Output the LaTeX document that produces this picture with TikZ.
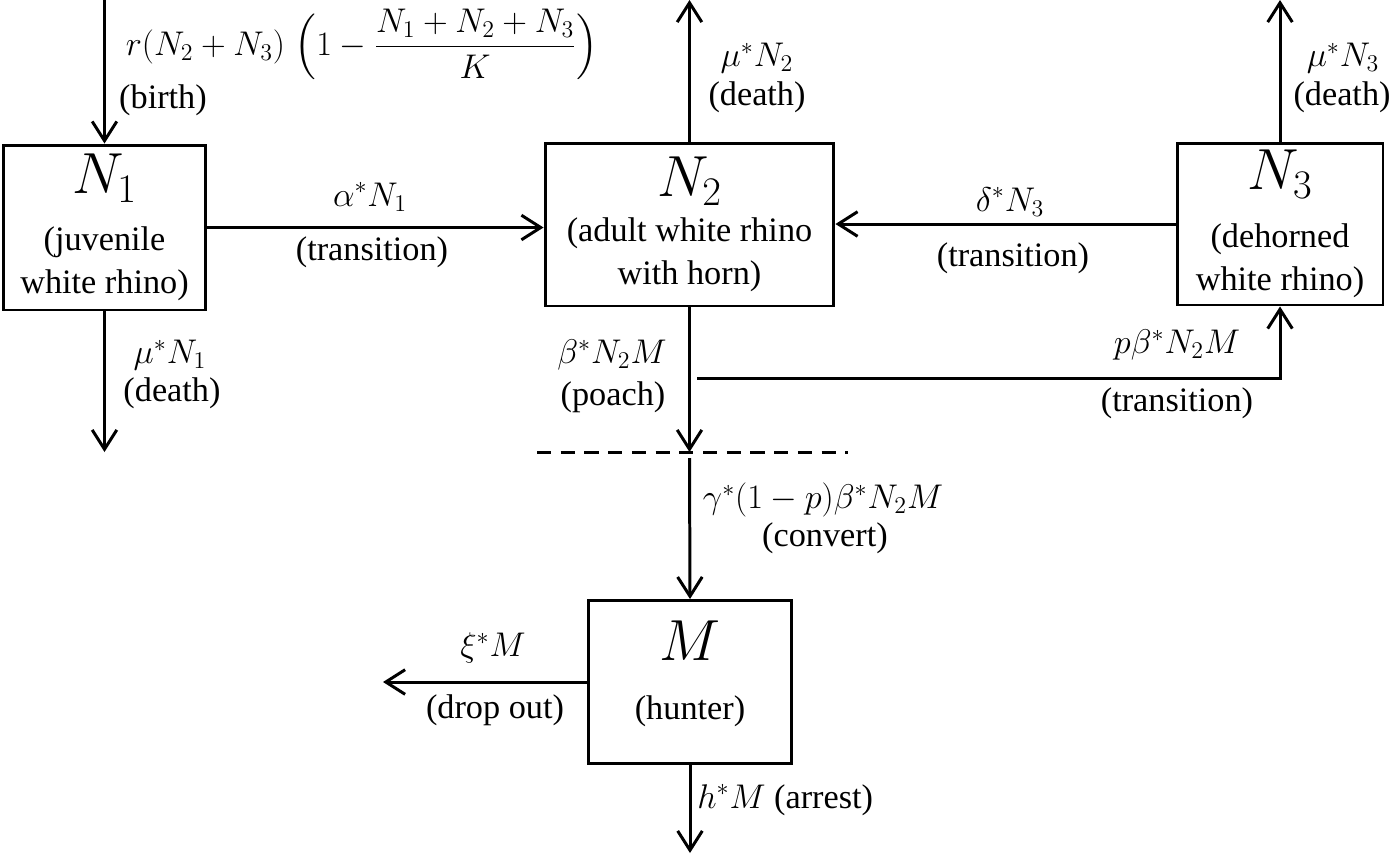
\RequirePackage{fix-cm}
\documentclass[tikz,border=0pt]{standalone}
\usepackage{amsmath}
\usepackage{fontspec}
\setmainfont{Liberation Serif}
\usetikzlibrary{arrows.meta}

\begin{document}
\begin{tikzpicture}[x=0.02cm,y=-0.02cm,
	box/.style={draw,line width=1.7pt,align=center,inner sep=0pt},
	flow/.style={line width=1.7pt,-{Straight Barb[length=11pt,width=14pt]}},
	lbl/.style={inner sep=0pt,align=center},
	font=\fontsize{19.5}{24.5}\selectfont]
	\useasboundingbox (0,0) rectangle (1392,853);

	\node[box,minimum width=4.06cm,minimum height=3.3cm] (N1) at (104.5,227.5) {{\fontsize{33}{36}\selectfont$N_1$}\\[8pt](juvenile\\white rhino)};
	\node[box,minimum width=5.78cm,minimum height=3.26cm] (N2) at (689.5,224.5) {{\fontsize{33}{36}\selectfont$N_2$}\\[1pt](adult white rhino\\with horn)};
	\node[box,minimum width=4.12cm,minimum height=3.24cm] (N3) at (1280,224) {{\fontsize{33}{36}\selectfont$N_3$}\\[8.5pt](dehorned\\white rhino)};
	\node[box,minimum width=4.08cm,minimum height=3.26cm] (M) at (690,682) {{\fontsize{33}{36}\selectfont$M$}\\[9pt](hunter)\\[-11.5pt]\mbox{}};

	\coordinate (birthtop) at (104.5,0);
	\coordinate (death1) at (104.5,452);
	\coordinate (death2) at (689.5,0);
	\coordinate (death3) at (1280,0);
	\coordinate (cut) at (689.5,452);
	\coordinate (cutL) at (537,452);
	\coordinate (cutR) at (848,452);
	\coordinate (cvt) at (689.5,458);
	\coordinate (br) at (697,378);
	\coordinate (drop) at (383,682);
	\coordinate (arrest) at (690,853);

	\draw[flow] (birthtop) -- (N1.north);
	\draw[flow] (N1.south) -- (death1);
	\draw[flow] (N1.east) -- (N1.east -| N2.west);
	\draw[flow] (N2.north) -- (death2);
	\draw[flow] (N3.north) -- (death3);
	\draw[flow] (N3.west) -- (N3.west -| N2.east);
	\draw[flow] (N2.south) -- (cut);
	\draw[flow] (br) -| (N3.south);
	\draw[line width=1.7pt,dash pattern=on 8pt off 5.5pt] (cutL) -- (cutR);
	\draw[flow] (cvt) -- (M.north);
	\draw[flow] (M.west) -- (drop);
	\draw[flow] (M.south) -- (arrest);

	% rates
	\node[lbl] (lbirth) at (362,44) {$\displaystyle r(N_2+N_3)\;\Big(1-\frac{N_1+N_2+N_3}{K}\Big)$};
	\node[lbl] (tbirth) at (163,100) {(birth)};
	\node[lbl] (lalpha) at (370,197) {$\alpha^*N_1$};
	\node[lbl] (talpha) at (372,252) {(transition)};
	\node[lbl] (lmu1) at (170,355) {$\mu^*N_1$};
	\node[lbl] (tmu1) at (172,393) {(death)};
	\node[lbl] (lmu2) at (757,58) {$\mu^*N_2$};
	\node[lbl] (tmu2) at (757,97) {(death)};
	\node[lbl] (lmu3) at (1343,58) {$\mu^*N_3$};
	\node[lbl] (tmu3) at (1342,97) {(death)};
	\node[lbl] (ldelta) at (1010,202) {$\delta^*N_3$};
	\node[lbl] (tdelta) at (1013,258) {(transition)};
	\node[lbl] (lbeta) at (612,355) {$\beta^*N_2M$};
	\node[lbl] (tbeta) at (613,397) {(poach)};
	\node[lbl] (lpbeta) at (1177,345) {$p\beta^*N_2M$};
	\node[lbl] (tpbeta) at (1177,403) {(transition)};
	\node[lbl] (lgamma) at (823,500) {$\gamma^*(1-p)\beta^*N_2M$};
	\node[lbl] (tgamma) at (825,538) {(convert)};
	\node[lbl] (lxi) at (493,648) {$\xi^*M$};
	\node[lbl] (txi) at (495,710) {(drop out)};
	\node[lbl,anchor=west] (lh) at (697,800) {$h^*M$ (arrest)};
\end{tikzpicture}
\end{document}
